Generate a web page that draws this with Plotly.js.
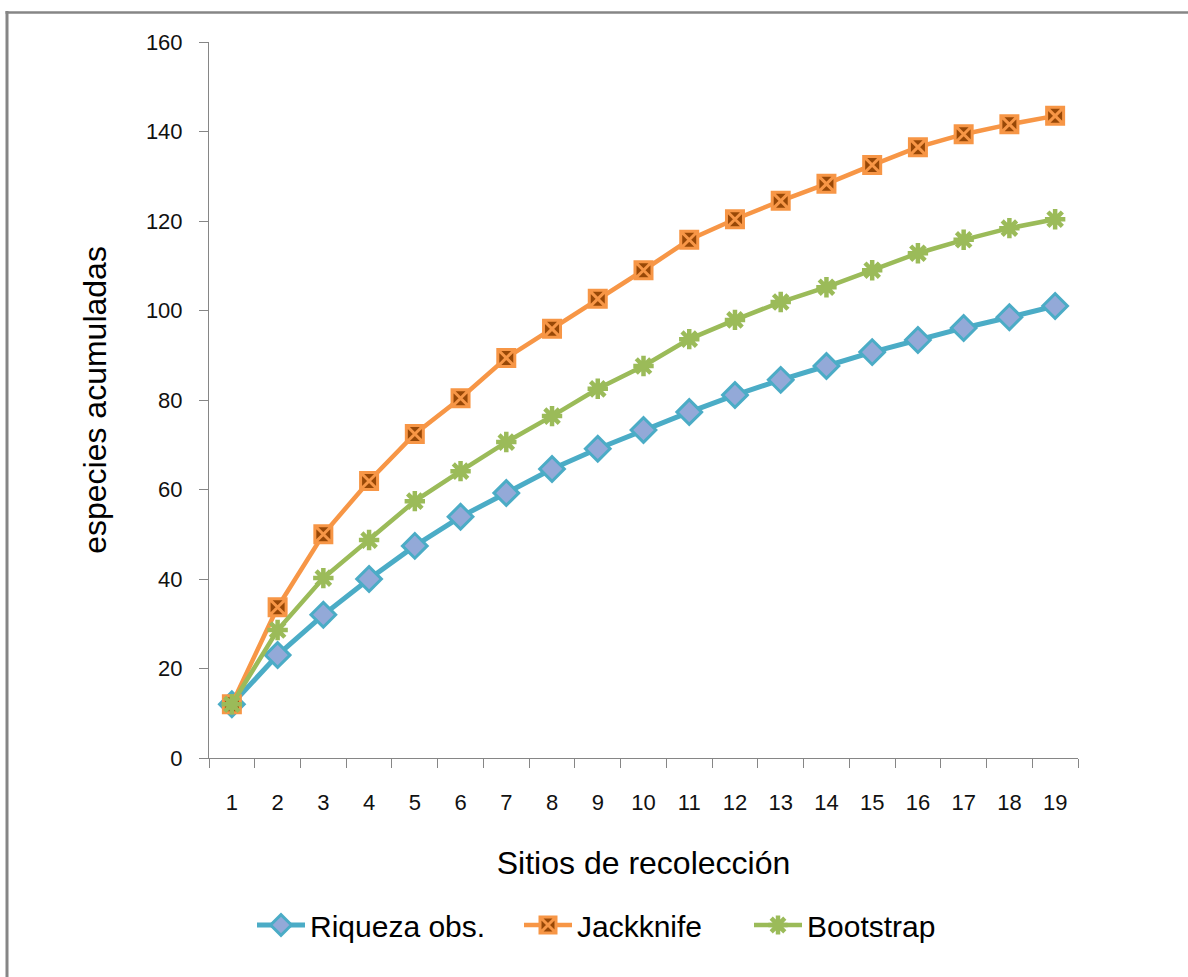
<!DOCTYPE html>
<html>
<head>
<meta charset="utf-8">
<script src="https://cdn.plot.ly/plotly-3.0.1.min.js"></script>
<style>
  html, body { margin: 0; padding: 0; background: #ffffff; }
  #chart { width: 1188px; height: 977px; }
</style>
</head>
<body>
<div id="chart"></div>
<script>
// ---- data ----
const sites = ["1","2","3","4","5","6","7","8","9","10","11","12","13","14","15","16","17","18","19"];
const riquezaObs = [12, 23, 32, 40, 47.4, 53.9, 59.2, 64.6, 69.1, 73.3, 77.3, 81.1, 84.5, 87.6, 90.7, 93.4, 96.1, 98.5, 101];
const jackknife  = [12, 33.7, 50, 61.9, 72.4, 80.4, 89.4, 95.9, 102.6, 109, 115.8, 120.4, 124.5, 128.3, 132.5, 136.5, 139.4, 141.6, 143.5];
const bootstrap  = [12, 28.6, 40.2, 48.7, 57.4, 64.1, 70.6, 76.4, 82.5, 87.6, 93.6, 97.9, 101.9, 105.2, 109, 112.8, 115.8, 118.4, 120.4];
const yTicks = [0, 20, 40, 60, 80, 100, 120, 140, 160];
const seriesNames = ["Riqueza obs.", "Jackknife", "Bootstrap"];
const xTitle = "Sitios de recolección";
const yTitle = "especies acumuladas";

// ---- layout geometry ----
const W = 1188, H = 977;
const M = {l: 209, r: 110, t: 42, b: 219};
const pw = W - M.l - M.r, ph = H - M.t - M.b;
const px2x = p => (p - M.l) / pw;
const py2y = p => (H - M.b - p) / ph;

const textFont = "Liberation Sans, Arial, sans-serif";

const traces = [
  {
    x: sites, y: riquezaObs, name: seriesNames[0], type: "scatter", mode: "lines+markers",
    legend: "legend",
    line: {color: "#4bacc6", width: 5},
    marker: {symbol: "diamond", size: 19, color: "#93a9d8", line: {color: "#4bacc6", width: 3}}
  },
  {
    x: sites, y: jackknife, name: seriesNames[1], type: "scatter", mode: "lines+markers",
    legend: "legend2",
    line: {color: "#f79646", width: 4.5},
    marker: {symbol: "square-x", size: 17, color: "#984807", line: {color: "#f79646", width: 3}}
  },
  {
    x: sites, y: bootstrap, name: seriesNames[2], type: "scatter", mode: "lines+markers",
    legend: "legend3",
    line: {color: "#9bbb59", width: 4.5},
    marker: {symbol: "asterisk-open", size: 17, color: "#9bbb59", line: {color: "#9bbb59", width: 4.5}}
  }
];

function legendAt(pxLeft) {
  return {
    orientation: "h",
    x: px2x(pxLeft), xanchor: "left",
    y: py2y(925), yanchor: "middle",
    font: {family: textFont, size: 30, color: "#000000"},
    itemwidth: 48,
    bgcolor: "rgba(0,0,0,0)"
  };
}

const layout = {
  width: W, height: H,
  margin: M,
  paper_bgcolor: "#ffffff",
  plot_bgcolor: "#ffffff",
  showlegend: true,
  font: {family: textFont, color: "#000000"},
  xaxis: {
    type: "category",
    range: [-0.5, 18.5],
    tickson: "boundaries",
    ticks: "outside", ticklen: 9, tickcolor: "#868686", tickwidth: 1,
    showline: true, linecolor: "#868686", linewidth: 1,
    showgrid: false, zeroline: false,
    tickfont: {family: textFont, size: 22, color: "#111111"},
    ticklabelstandoff: 25,
    title: {text: xTitle, font: {family: textFont, size: 32, color: "#000000"}, standoff: 37},
    fixedrange: true
  },
  yaxis: {
    range: [0, 160],
    tickvals: yTicks,
    ticks: "outside", ticklen: 9, tickcolor: "#868686", tickwidth: 1,
    showline: true, linecolor: "#868686", linewidth: 1,
    showgrid: false, zeroline: false,
    tickfont: {family: textFont, size: 22, color: "#111111"},
    ticklabelstandoff: 12,
    title: {text: yTitle, font: {family: textFont, size: 32, color: "#000000"}, standoff: 29},
    fixedrange: true
  },
  legend: legendAt(252),
  legend2: legendAt(519),
  legend3: legendAt(749),
  shapes: [
    {type: "line", xref: "paper", yref: "paper", x0: px2x(7), x1: px2x(7), y0: py2y(11), y1: py2y(H + 5),
     line: {color: "#868686", width: 3}},
    {type: "line", xref: "paper", yref: "paper", x0: px2x(5.5), x1: px2x(W + 5), y0: py2y(12.5), y1: py2y(12.5),
     line: {color: "#868686", width: 2.5}}
  ]
};

Plotly.newPlot("chart", traces, layout, {displayModeBar: false, staticPlot: true});
</script>
</body>
</html>
